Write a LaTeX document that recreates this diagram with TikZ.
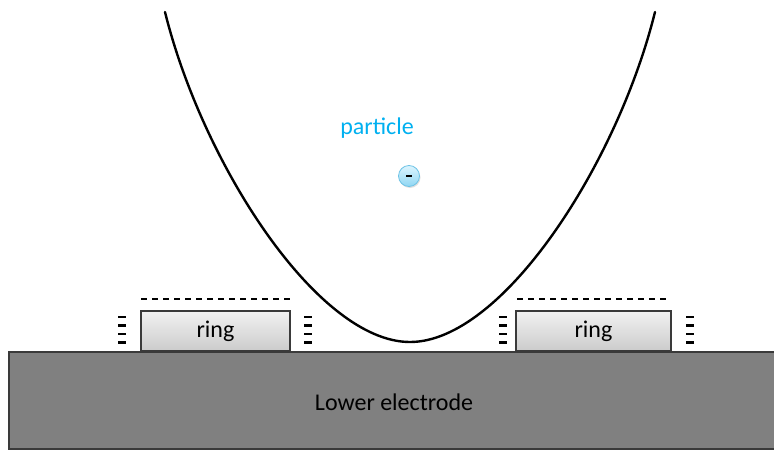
\documentclass[tikz,border=0pt]{standalone}
\usepackage{fontspec}
\setmainfont{Carlito}
\usetikzlibrary{shadows}
\definecolor{elecgray}{HTML}{808080}
\definecolor{edgegray}{HTML}{3A3A3A}
\definecolor{ringtop}{HTML}{F2F2F2}
\definecolor{ringbot}{HTML}{CBCBCB}
\definecolor{partblue}{HTML}{00B0F0}
\definecolor{balltop}{HTML}{DDF5FE}
\definecolor{ballbot}{HTML}{8FD6F3}
\definecolor{balledge}{HTML}{6EC3E6}
\tikzset{
  bigtext/.style={font=\fontsize{24}{28}\selectfont},
  ringbox/.style={draw=edgegray, line width=1.3pt, top color=ringtop, bottom color=ringbot,
    minimum width=150pt, minimum height=40pt, inner sep=0pt, bigtext, text=black},
  chargeline/.style={line width=2.2pt, dash pattern=on 6pt off 5pt},
  tick/.style={line width=2.5pt},
  well/.style={line width=2.4pt, line cap=round},
}
\begin{document}
\begin{tikzpicture}[x=1pt,y=-1pt]
\useasboundingbox (0,0) rectangle (774,450);
% lower electrode
\node[draw=edgegray, line width=1.6pt, fill=elecgray, minimum width=770pt, minimum height=97pt,
  inner sep=0pt, anchor=north west, bigtext] (electrode) at (8,351) {};
\node[bigtext] (electrodelabel) at (394,402) {Lower electrode};
% rings
\node[ringbox, minimum width=149pt] (ringL) at (215.5,331) {ring};
\node[ringbox, minimum width=155pt] (ringR) at (593.5,331) {ring};
% dashed charge lines above rings
\coordinate (dLa) at (141,299); \coordinate (dLb) at (293,299);
\coordinate (dRa) at (517,299); \coordinate (dRb) at (668,299);
\draw[chargeline] (dLa) -- (dLb);
\draw[chargeline] (dRa) -- (dRb);
% side charge ticks
\foreach \xa in {118,304,499,686}{
  \foreach \yy in {317,325.5,334,342.5}{
    \draw[tick] (\xa,\yy) -- ++(8,0);
  }
}
% potential well
\coordinate (wTL) at (165,12);
\coordinate (wB) at (410,342);
\coordinate (wTR) at (655,12);
\draw[well] (wTL) .. controls (203,165) and (318,342) .. (wB)
  .. controls (502,342) and (617,165) .. (wTR);
% particle
\node[bigtext, text=partblue] (plabel) at (377,128) {particle};
\node[circle, draw=balledge, line width=0.8pt, top color=balltop, bottom color=ballbot,
  minimum size=21pt, inner sep=0pt,
  drop shadow={opacity=0.25, shadow xshift=1pt, shadow yshift=-1.5pt}] (particle) at (409,176) {};
\draw[line width=2pt] ([xshift=-3pt]particle.center) -- ([xshift=3pt]particle.center);
\end{tikzpicture}
\end{document}
